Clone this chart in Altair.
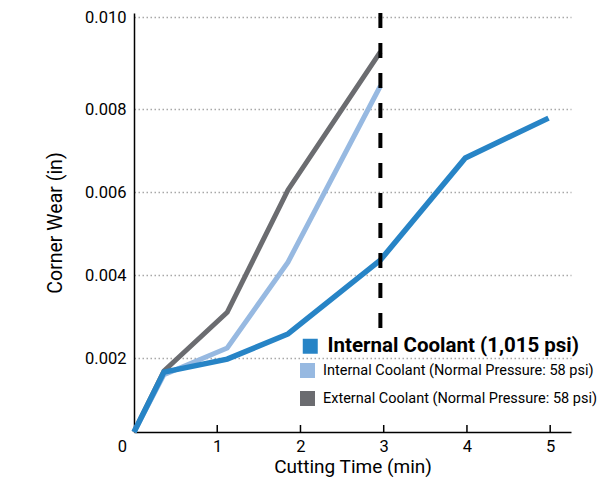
import altair as alt
import pandas as pd

# ---------------- data ----------------
series = [
    "Internal Coolant (1,015 psi)",
    "Internal Coolant (Normal Pressure: 58 psi)",
    "External Coolant (Normal Pressure: 58 psi)",
]
colors = ["#2784c6", "#97b9e1", "#6b6c70"]

time_high = [0, 0.36, 1.12, 1.85, 2.96, 3.98, 4.98]
wear_high = [0, 0.00162, 0.00197, 0.00258, 0.00436, 0.00682, 0.00778]

time_normal = [0, 0.36, 1.12, 1.85, 2.96]
wear_internal_normal = [0, 0.00155, 0.00224, 0.00431, 0.00850]
wear_external_normal = [0, 0.00165, 0.00310, 0.00605, 0.00924]

cutoff_time = [2.96]
cutoff_top = [0.0101]
cutoff_bottom = [0.0027]

x_ticks = [0, 1, 2, 3, 4, 5]
y_ticks = [0.002, 0.004, 0.006, 0.008, 0.010]

# ---------------- tables ----------------
rows = []
for t, w in zip(time_high, wear_high):
    rows.append({"series": series[0], "time": t, "wear": w})
for t, w in zip(time_normal, wear_internal_normal):
    rows.append({"series": series[1], "time": t, "wear": w})
for t, w in zip(time_normal, wear_external_normal):
    rows.append({"series": series[2], "time": t, "wear": w})
df = pd.DataFrame(rows)
rule_df = pd.DataFrame({"time": cutoff_time, "top": cutoff_top, "bottom": cutoff_bottom})
tick_df = pd.DataFrame({"time": x_ticks[1:]})

FONT = "Roboto"

xscale = alt.Scale(domain=[0, 5.25], nice=False, zero=False)
yscale = alt.Scale(domain=[0, 0.002, 0.008, 0.010, 0.0101],
                   range=[419, 345, 96, 4, 0], nice=False, zero=False)

xaxis_main = alt.Axis(
    values=x_ticks, format="d", ticks=False, grid=False,
    domain=True, domainColor="black", domainWidth=1.5,
    labelFont=FONT, labelFontSize=16.5, labelColor="black", labelPadding=6,
    labelFlush=False,
    labelOffset={"condition": {"test": "datum.value == 0", "value": -12}, "value": 0},
    title="Cutting Time (min)", titleFont=FONT, titleFontSize=19,
    titleFontWeight="normal", titleColor="black", titlePadding=3,
)
yaxis_main = alt.Axis(
    values=y_ticks, format=".3f", ticks=False, domain=True, domainColor="black",
    domainWidth=1.5, grid=True, gridColor="#a8a8a8", gridDash=[1.5, 2.5],
    gridWidth=1.5, labelFont=FONT, labelFontSize=16.5, labelColor="black",
    labelPadding=8, labelFlush=False,
    title="Corner Wear (in)", titleFont=FONT, titleFontSize=19.5,
    titleFontWeight="normal", titleColor="black", titlePadding=19,
)

X = alt.X("time:Q", scale=xscale, axis=xaxis_main)
Y = alt.Y("wear:Q", scale=yscale, axis=yaxis_main)

scale_hi = alt.Scale(domain=[series[0]], range=[colors[0]])
scale_np = alt.Scale(domain=[series[1], series[2]], range=[colors[1], colors[2]])

legend_hi = alt.Legend(
    orient="none", legendX=166, legendY=323, title=None, symbolType="square",
    symbolSize=225, symbolStrokeWidth=0, labelFont=FONT, labelFontSize=20.5,
    labelFontWeight="bold", labelColor="black", labelOffset=7, labelLimit=500,
    padding=0, offset=0,
)
legend_np = alt.Legend(
    orient="none", legendX=166, legendY=350, title=None, symbolType="square",
    symbolSize=225, symbolStrokeWidth=0, labelFont=FONT, labelFontSize=14.5,
    labelColor="black", labelOffset=8, labelLimit=500, rowPadding=12,
    padding=0, offset=0,
)

base = alt.Chart(df)

line_gray = base.transform_filter(alt.datum.series == series[2]).mark_line(
    strokeWidth=5).encode(x=X, y=Y, color=alt.Color("series:N", scale=scale_np, legend=None))
line_light = base.transform_filter(alt.datum.series == series[1]).mark_line(
    strokeWidth=5).encode(x=X, y=Y, color=alt.Color("series:N", scale=scale_np, legend=None))
line_hi = base.transform_filter(alt.datum.series == series[0]).mark_line(
    strokeWidth=5.5).encode(x=X, y=Y, color=alt.Color("series:N", scale=scale_hi, legend=None))

sq_np = base.transform_filter(alt.datum.series != series[0]).mark_square(
    size=0, opacity=1).encode(x=X, y=Y, color=alt.Color("series:N", scale=scale_np, legend=legend_np))
sq_hi = base.transform_filter(alt.datum.series == series[0]).mark_square(
    size=0, opacity=1).encode(x=X, y=Y, color=alt.Color("series:N", scale=scale_hi, legend=legend_hi))

ticks = alt.Chart(tick_df).mark_tick(
    orient="vertical", size=7, thickness=1.5, color="black", opacity=1, yOffset=-3.5
).encode(x=X, y=alt.Y(datum=0, type="quantitative", scale=yscale, axis=yaxis_main))

rule = alt.Chart(rule_df).mark_rule(color="black", strokeWidth=4, strokeDash=[15, 15]).encode(
    x=X,
    y=alt.Y("top:Q", scale=yscale, axis=yaxis_main),
    y2="bottom:Q",
)

chart = (
    alt.layer(line_gray, line_light, line_hi, sq_np, sq_hi, ticks, rule)
    .resolve_scale(color="independent")
    .properties(width=437, height=419, autosize="none", background="white",
                padding={"left": 126, "top": 5, "right": 30, "bottom": 47})
    .configure_view(stroke=None)
    .configure_axis(labelFont=FONT, labelColor="black",
                    titleFont=FONT, titleFontWeight="normal", titleColor="black")
    .configure_axisX(titleFontSize=19, labelFontSize=16.5)
    .configure_axisY(titleFontSize=19.5, labelFontSize=16.5)
)

chart.save("out.html", embed_options={"renderer": "svg", "actions": False})
